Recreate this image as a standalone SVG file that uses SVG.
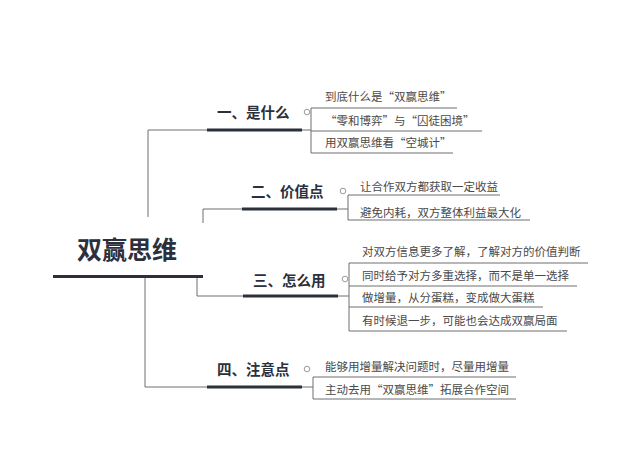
<svg xmlns="http://www.w3.org/2000/svg" width="640" height="462" viewBox="0 0 640 462">
<style>
text{font-family:"Noto Sans CJK SC","Noto Sans",sans-serif}
.root{font-size:25px;font-weight:bold;fill:#2c303c}
.br{font-size:14.5px;font-weight:bold;fill:#2c303c}
.lf{font-size:11.5px;fill:#4a4a4a}
.thick{stroke:#2c303c;stroke-width:3;fill:none}
.thin{stroke:#6f6f6f;stroke-width:1;fill:none}
.dot{fill:#fff;stroke:#9a9a9a;stroke-width:1}
</style>
<rect width="640" height="462" fill="#fff"/>
<g id="connectors">
<polyline class="thin" points="148,217 148,130 207,130"/>
<polyline class="thin" points="203,223 203,209 242,209"/>
<polyline class="thin" points="197,277 197,296 243,296"/>
<polyline class="thin" points="145,277 145,387 207,387"/>
<line class="thin" x1="302" y1="130" x2="311" y2="130"/>
<line class="thin" x1="337" y1="209" x2="348" y2="209"/>
<line class="thin" x1="338" y1="296" x2="349" y2="296"/>
<line class="thin" x1="302" y1="387" x2="313" y2="387"/>
<line class="thin" x1="311" y1="108" x2="311" y2="153"/>
<line class="thin" x1="348" y1="195" x2="348" y2="220"/>
<line class="thin" x1="349" y1="263" x2="349" y2="331"/>
<line class="thin" x1="313" y1="377" x2="313" y2="399"/>
</g>
<g id="root">
<text class="root" x="77" y="259">双赢思维</text>
<line class="thick" x1="53" y1="276.5" x2="203" y2="276.5" stroke-width="3.5"/>
</g>
<g id="b1">
<text class="br" x="217" y="118">一、是什么</text>
<line class="thick" x1="207" y1="130" x2="302" y2="130"/>
<circle class="dot" cx="307" cy="112" r="2.8"/>
</g>
<g id="b1l1"><text class="lf" x="325" y="101">到底什么是“双赢思维”</text><line class="thin" x1="311" y1="108" x2="457" y2="108"/></g>
<g id="b1l2"><text class="lf" x="325" y="124.5">“零和博弈”与“囚徒困境”</text><line class="thin" x1="311" y1="131" x2="482" y2="131"/></g>
<g id="b1l3"><text class="lf" x="325" y="146.5">用双赢思维看“空城计”</text><line class="thin" x1="311" y1="153" x2="453" y2="153"/></g>
<g id="b2">
<text class="br" x="251" y="197">二、价值点</text>
<line class="thick" x1="242" y1="209" x2="337" y2="209"/>
<circle class="dot" cx="343" cy="191" r="2.8"/>
</g>
<g id="b2l1"><text class="lf" x="360" y="191">让合作双方都获取一定收益</text><line class="thin" x1="348" y1="195" x2="500" y2="195"/></g>
<g id="b2l2"><text class="lf" x="360" y="217">避免内耗，双方整体利益最大化</text><line class="thin" x1="348" y1="220" x2="530" y2="220"/></g>
<g id="b3">
<text class="br" x="253" y="285.5">三、怎么用</text>
<line class="thick" x1="243" y1="296" x2="338" y2="296"/>
<circle class="dot" cx="345" cy="279" r="2.8"/>
</g>
<g id="b3l1"><text class="lf" x="362" y="256">对双方信息更多了解，了解对方的价值判断</text><line class="thin" x1="349" y1="263" x2="588" y2="263"/></g>
<g id="b3l2"><text class="lf" x="362" y="280">同时给予对方多重选择，而不是单一选择</text><line class="thin" x1="349" y1="286" x2="577" y2="286"/></g>
<g id="b3l3"><text class="lf" x="362" y="302">做增量，从分蛋糕，变成做大蛋糕</text><line class="thin" x1="349" y1="307" x2="543" y2="307"/></g>
<g id="b3l4"><text class="lf" x="362" y="324.5">有时候退一步，可能也会达成双赢局面</text><line class="thin" x1="349" y1="331" x2="567" y2="331"/></g>
<g id="b4">
<text class="br" x="217" y="375">四、注意点</text>
<line class="thick" x1="207" y1="387" x2="302" y2="387"/>
<circle class="dot" cx="307" cy="369" r="2.8"/>
</g>
<g id="b4l1"><text class="lf" x="325" y="371">能够用增量解决问题时，尽量用增量</text><line class="thin" x1="313" y1="377" x2="516" y2="377"/></g>
<g id="b4l2"><text class="lf" x="325" y="394">主动去用“双赢思维”拓展合作空间</text><line class="thin" x1="313" y1="399" x2="516" y2="399"/></g>
</svg>
